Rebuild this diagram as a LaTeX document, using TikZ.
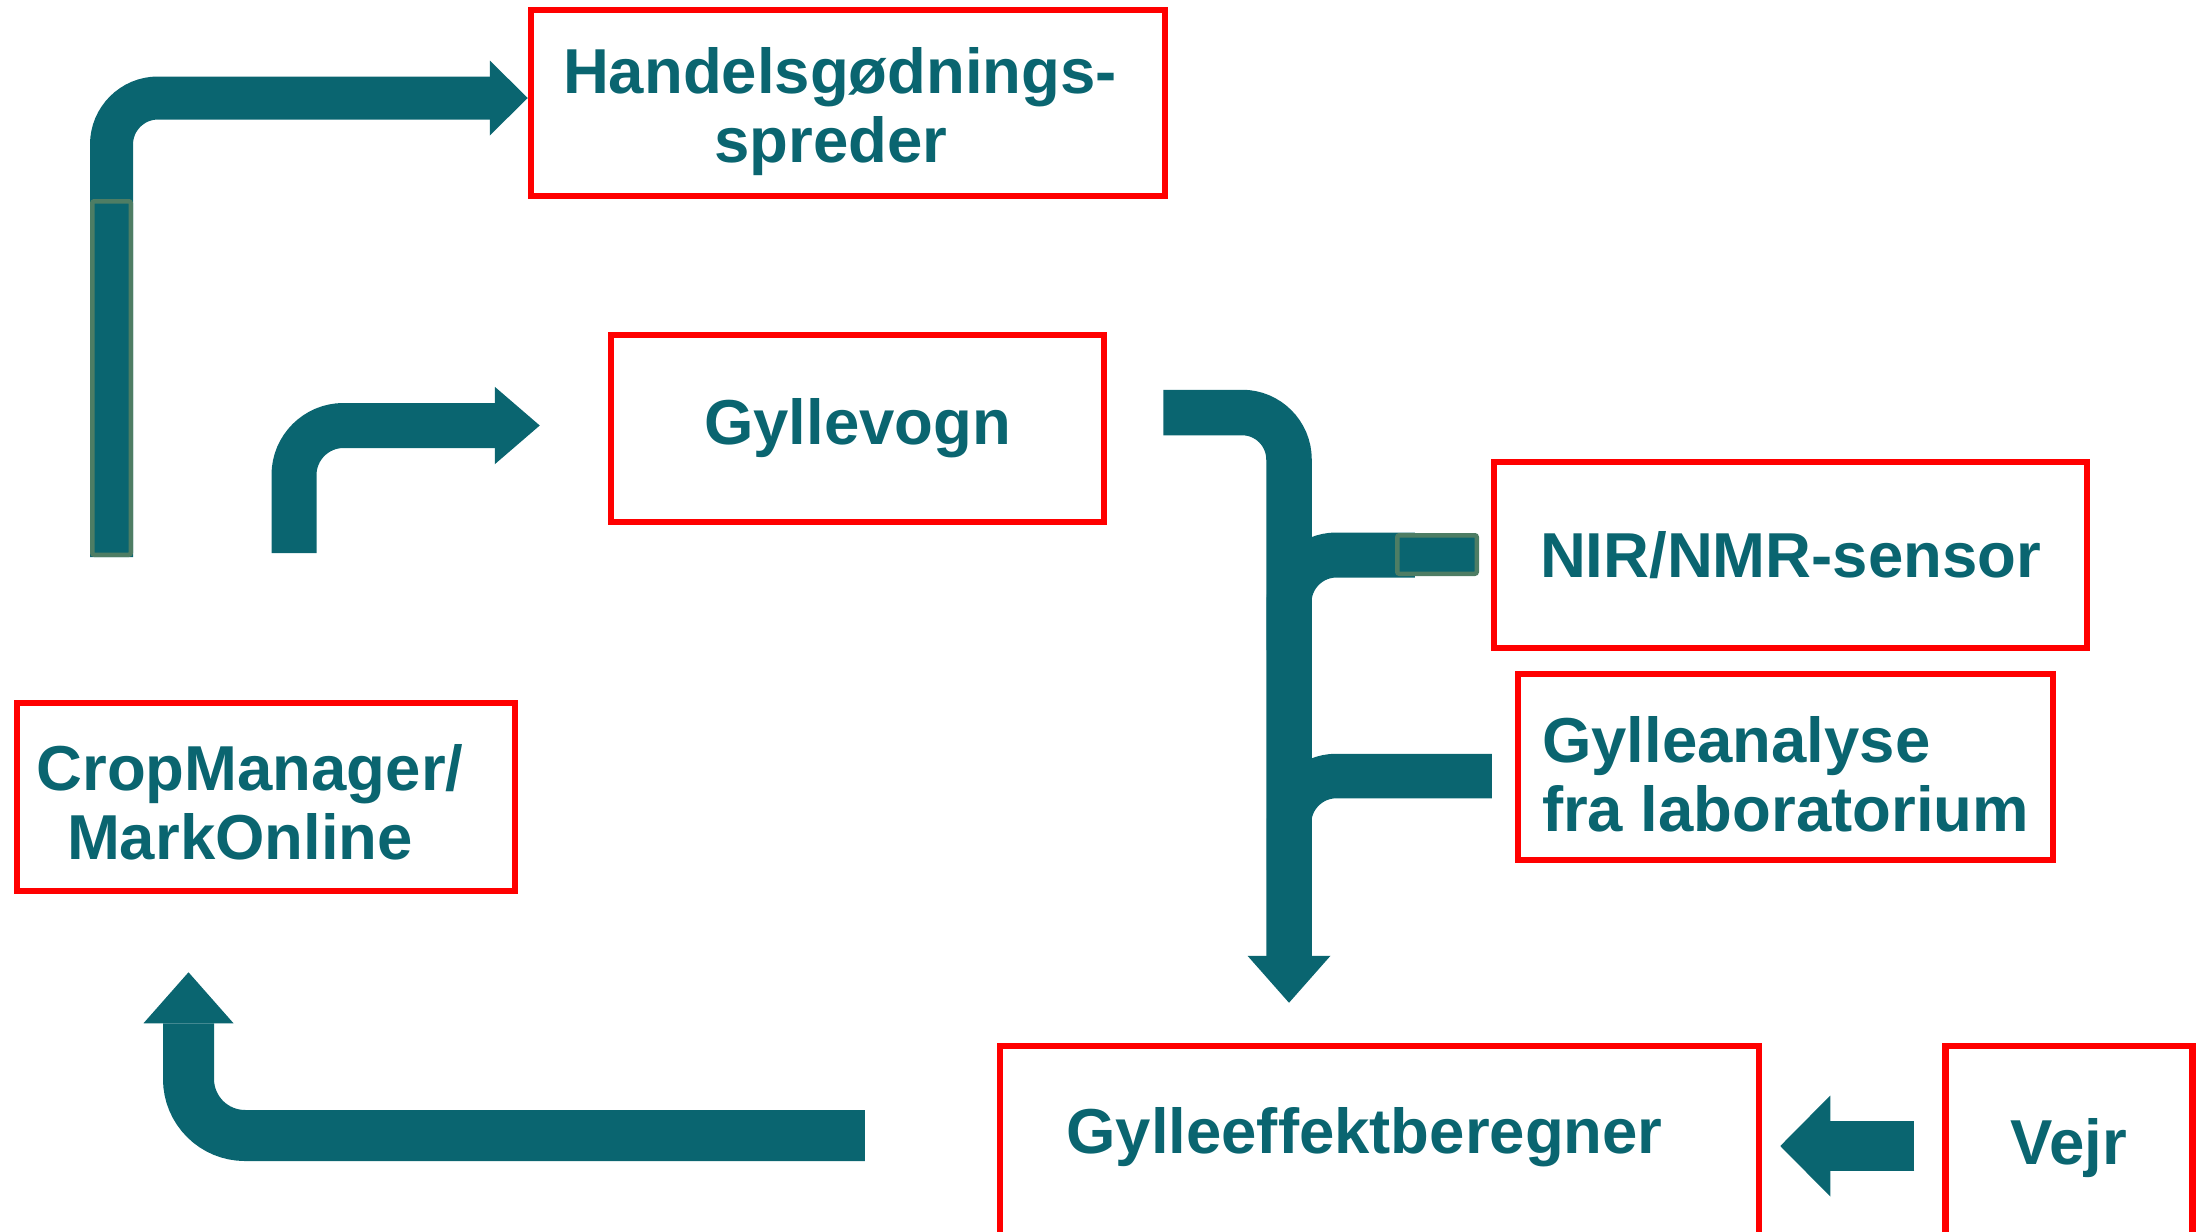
\documentclass[tikz,border=0pt]{standalone}
\usepackage{fontspec}
\setmainfont{Liberation Sans}
\usetikzlibrary{positioning,arrows.meta}
\definecolor{flowteal}{HTML}{0A6570}
\definecolor{patchgreen}{HTML}{4E7D64}

\begin{document}
\begin{tikzpicture}[x=0.5pt,y=-0.5pt,every node/.style={box},
				box/.style={draw=red,line width=3.25pt,rectangle,inner sep=0pt,text=flowteal,align=center,
					font=\fontsize{31.75pt}{34.5pt}\selectfont\bfseries},
				flow/.style={draw=flowteal,line width=#1},
				patch/.style={fill=flowteal,draw=patchgreen,line width=2.25pt,rounded corners=1pt}]
				\path[use as bounding box] (0,0) rectangle (2204,1231);
				\clip (0,0) rectangle (2204,1231);
				\node (HANDEL)  [minimum width=317pt,minimum height=93pt,text height=66pt,text depth=7pt] at (848,103) {Handelsgødnings-\hspace*{8pt}\\spreder\hspace*{17pt}};
				\node (GYLLE)   [minimum width=246.5pt,minimum height=93.5pt] at (857.5,428.5) {Gyllevogn};
				\node (NIR)     [minimum width=296.5pt,minimum height=93pt] at (1790.5,555) {NIR/NMR-sensor};
				\node (ANALYSE) [minimum width=267.5pt,minimum height=93pt,align=left,text height=65pt,text depth=1pt] at (1785.5,767) {Gylleanalyse\\fra laboratorium};
				\node (CROP)    [minimum width=249pt,minimum height=94pt,text height=63pt,text depth=1pt] at (266,797) {CropManager/\hspace*{16pt}\\MarkOnline\hspace*{26pt}};
				\node (EFFEKT)  [minimum width=379.5pt,minimum height=102pt,text height=12pt,text depth=7pt] at (1379.5,1148) {Gylleeffektberegner\hspace*{15pt}};
				\node (VEJR)    [minimum width=123.5pt,minimum height=102pt,right=90pt of EFFEKT] {Vejr};
				\coordinate (AFOOT)  at (111.5,557);
				\coordinate (BFOOT)  at (294,553);
				\coordinate (TRUNK1) at (1289,650);
				\coordinate (TRUNK2) at (1289,870);

				\draw[flow=21.5pt,rounded corners=23.25pt,-{Triangle[width=37.5pt,length=19pt,line width=0pt]}] (AFOOT) |- ([yshift=2.5pt]HANDEL.west);
				\draw[patch] (92.25,201.25) rectangle (130.75,554.75);
				\draw[flow=22.5pt,rounded corners=24.75pt,-{Triangle[width=38.75pt,length=22.5pt,line width=0pt]}] (BFOOT) |- ([shift={(-34pt,1.5pt)}]GYLLE.west);
				\draw[flow=22.75pt,rounded corners=23.5pt,-{Triangle[width=41.5pt,length=23.5pt,line width=0pt]}] ([shift={(28pt,8pt)}]GYLLE.east) -| ([shift={(-45.25pt,20pt)}]EFFEKT.north);
				\draw[flow=22.5pt,rounded corners=23.75pt] ([xshift=-38pt]NIR.west) -| (TRUNK1);
				\draw[patch] (1397.25,535.25) rectangle (1476.75,573.75);
				\draw[flow=22.25pt,rounded corners=23.75pt] ([shift={(-11.5pt,-4.5pt)}]ANALYSE.west) -| (TRUNK2);
				\draw[flow=25.5pt,rounded corners=28.25pt,-{Triangle[width=45pt,length=25.5pt,line width=0pt]}] ([shift={(-66pt,6.25pt)}]EFFEKT.west) -| ([shift={(-38.75pt,-39pt)}]CROP.south);
				\draw[flow=25pt,-{Triangle[width=50.5pt,length=25pt,line width=0pt]}] ([shift={(-14pt,1pt)}]VEJR.west) -- ([shift={(9pt,1pt)}]EFFEKT.east);
\end{tikzpicture}
\end{document}
